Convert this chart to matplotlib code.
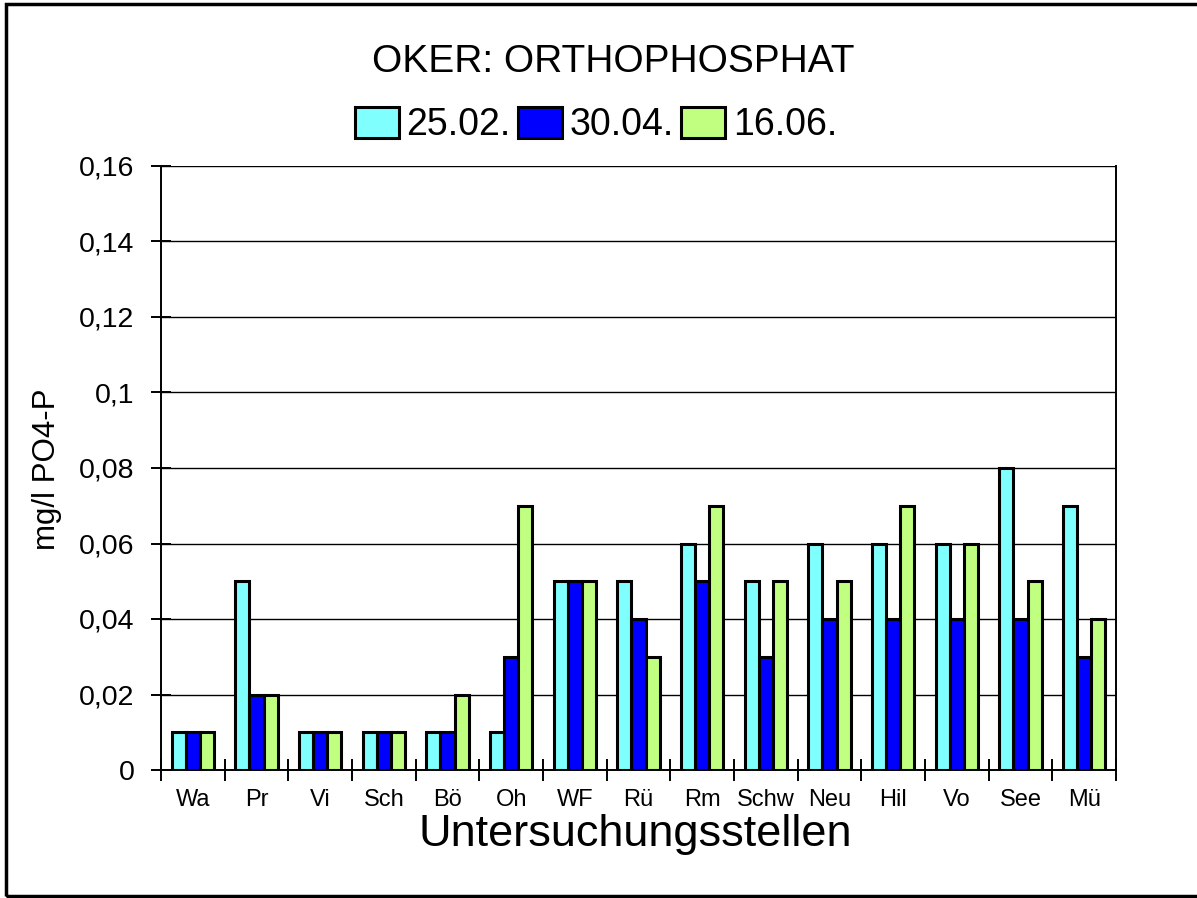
import matplotlib
matplotlib.use("Agg")
import matplotlib.pyplot as plt
from matplotlib.patches import Rectangle
import numpy as np

plt.rcParams['font.family'] = ['Liberation Sans', 'DejaVu Sans']

title = "OKER: ORTHOPHOSPHAT"
categories = ["Wa", "Pr", "Vi", "Sch", "Bö", "Oh", "WF", "Rü", "Rm", "Schw", "Neu", "Hil", "Vo", "See", "Mü"]
series_names = ["25.02.", "30.04.", "16.06."]
s_2502 = [0.01, 0.05, 0.01, 0.01, 0.01, 0.01, 0.05, 0.05, 0.06, 0.05, 0.06, 0.06, 0.06, 0.08, 0.07]
s_3004 = [0.01, 0.02, 0.01, 0.01, 0.01, 0.03, 0.05, 0.04, 0.05, 0.03, 0.04, 0.04, 0.04, 0.04, 0.03]
s_1606 = [0.01, 0.02, 0.01, 0.01, 0.02, 0.07, 0.05, 0.03, 0.07, 0.05, 0.05, 0.07, 0.06, 0.05, 0.04]
colors = ["#80FFFF", "#0000FF", "#C0FF80"]
y_ticks = [0, 0.02, 0.04, 0.06, 0.08, 0.10, 0.12, 0.14, 0.16]
y_ticklabels = ["0", "0,02", "0,04", "0,06", "0,08", "0,1", "0,12", "0,14", "0,16"]
y_label = "mg/l PO4-P"
x_label = "Untersuchungsstellen"

fig = plt.figure(figsize=(11.97, 8.98), dpi=100)
ax = fig.add_axes([161/1197, 1-770/898, (1116-161)/1197, (770-166)/898])

x = np.arange(len(categories))
w = 0.222
handles = []
for i, (vals, c, name) in enumerate(zip([s_2502, s_3004, s_1606], colors, series_names)):
    b = ax.bar(x + (i-1)*w, vals, width=w, color=c, edgecolor="black", linewidth=2.2, label=name, zorder=3)
    handles.append(b)

ax.set_xlim(-0.5, len(categories)-0.5)
ax.set_ylim(0, 0.16)
ax.set_yticks(y_ticks)
ax.set_yticklabels(y_ticklabels, fontsize=20.5)
ax.set_xticks(x)
ax.set_xticklabels(categories, fontsize=17)
ax.set_xticks(np.arange(len(categories)+1)-0.5, minor=True)
ax.tick_params(axis='x', which='major', length=0, pad=14)
ax.tick_params(axis='x', which='minor', direction='inout', length=16, width=1.4)
ax.tick_params(axis='y', direction='inout', length=14, width=1.4, pad=12)
ax.yaxis.grid(True, color="black", linewidth=1.0, zorder=0)
ax.set_axisbelow(True)
ax.spines["top"].set_visible(False)
for s in ["left", "bottom", "right"]:
    ax.spines[s].set_linewidth(1.4)

fig.text(613/1197, 1-72/898, title, ha="center", va="baseline", fontsize=28)
fig.legend(handles=handles, labels=series_names, loc="center", bbox_to_anchor=(0.498, 1-125/898),
           ncol=3, frameon=False, fontsize=27, handlelength=1.17, handleheight=0.9,
           handletextpad=0.2, columnspacing=0.2, borderaxespad=0, borderpad=0)
fig.text(47/1197, 1-469/898, y_label, rotation=90, ha="center", va="center", fontsize=22.5)
fig.text(635/1197, 1-846/898, x_label, ha="center", va="baseline", fontsize=32.5)

fig.patches.append(Rectangle((6/1197, 1-896/898), 1.05, 892/898, transform=fig.transFigure,
                             fill=False, edgecolor="black", linewidth=2.5))

fig.savefig("out.png", dpi=100)
